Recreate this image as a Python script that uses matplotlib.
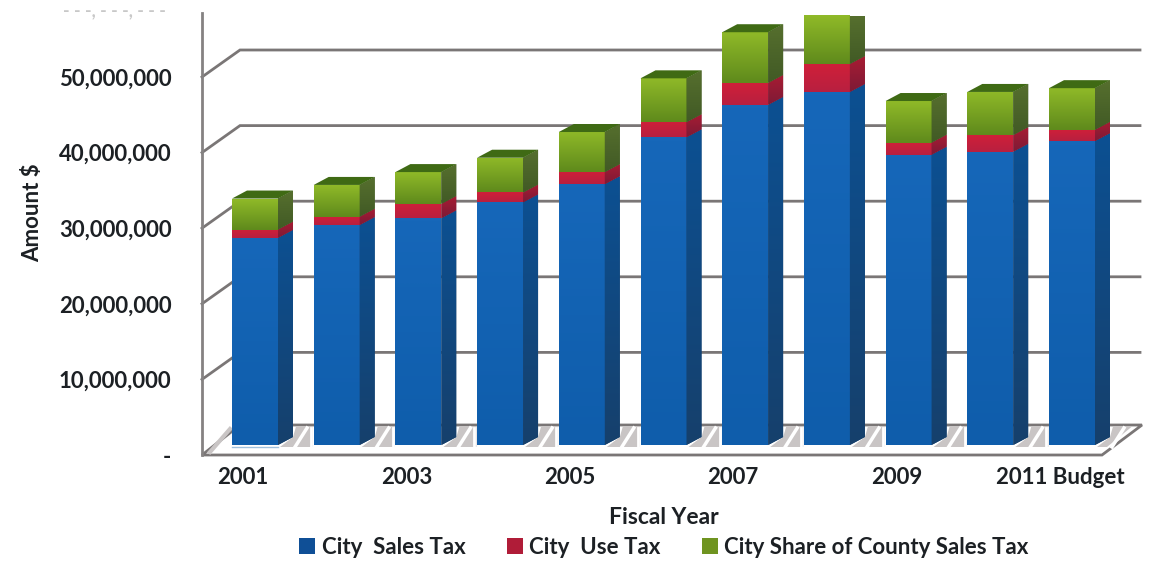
import numpy as np
import matplotlib
matplotlib.use("Agg")
import matplotlib.pyplot as plt
from matplotlib.patches import Polygon, Patch
from matplotlib.colors import LinearSegmentedColormap as LSC
from matplotlib.transforms import ScaledTranslation

# ---- data (millions of dollars) ----
categories = ["2001", "2002", "2003", "2004", "2005", "2006", "2007", "2008", "2009", "2010", "2011 Budget"]
sales_tax = [27.4, 29.1, 30.0, 32.1, 34.5, 40.7, 45.0, 46.7, 38.4, 38.8, 40.2]
use_tax = [1.1, 1.1, 1.9, 1.3, 1.6, 2.0, 2.9, 3.7, 1.6, 2.2, 1.5]
county_tax = [4.1, 4.2, 4.2, 4.6, 5.3, 5.8, 6.7, 6.5, 5.5, 5.7, 5.5]
y_ticks = [0, 10, 20, 30, 40, 50]
y_labels = ["-", "10,000,000", "20,000,000", "30,000,000", "40,000,000", "50,000,000"]
series_names = ["City  Sales Tax", "City  Use Tax", "City Share of County Sales Tax"]

plt.rcParams["font.family"] = ["Lato", "DejaVu Sans"]
W, H = 1151, 564
fig = plt.figure(figsize=(W / 100, H / 100), dpi=100, facecolor="white")
INK = "#1c2024"

# layout in pixels
L, R, T, B = 202, 1140, 13, 455
STEP, VPX = 81.7, 7.56          # px per category, px per million
ax = fig.add_axes([L / W, 1 - B / H, (R - L) / W, (B - T) / H])
xlim = ((L - 255) / STEP, (R - 255) / STEP)
ylim = (0, (B - T) / VPX)
px = lambda p: p / STEP
pv = lambda p: p / VPX
WIDTH = px(46)
DX, DY = px(15), pv(8)
BASE = pv(10)
VCLIP = pv(B - 16)
WALL_DX, WALL_DY = px(38), pv(27)
GRID = "#7a7676"

def shaded(xy, colors, z, horizontal=False):
    xy = np.asarray(xy, float)
    xy[:, 1] = np.minimum(xy[:, 1], VCLIP)
    poly = Polygon(xy, closed=True, facecolor=colors[0], edgecolor="none", zorder=z)
    ax.add_patch(poly)
    grad = np.linspace(0, 1, 64)
    grad = grad[None, :] if horizontal else grad[:, None]
    im = ax.imshow(grad, extent=(xy[:, 0].min(), xy[:, 0].max(), xy[:, 1].min(), xy[:, 1].max()),
                   origin="lower", aspect="auto", zorder=z, interpolation="bilinear",
                   cmap=LSC.from_list("c", colors))
    im.set_clip_path(poly)

# walls
x0 = xlim[0]
for v in y_ticks:
    if v == 0:
        continue
    ax.plot([x0, x0 + WALL_DX, xlim[1]], [v, v + WALL_DY, v + WALL_DY], color=GRID,
            lw=2.0, zorder=1, solid_joinstyle="miter", clip_on=False)

# floor
floor_back = WALL_DY + pv(3)
ax.add_patch(Polygon([(x0, 0), (px(1102 - 255), 0), (px(1142 - 255), floor_back), (x0 + WALL_DX, floor_back)],
                     closed=True, facecolor="white", edgecolor=GRID, lw=2.0, zorder=1.2, clip_on=False))

x = np.arange(len(categories))
blue, red, green = np.array(sales_tax), np.array(use_tax), np.array(county_tax)
base = np.full(len(x), BASE)

# bar shadows on the floor
for xi in x:
    r = xi + WIDTH / 2
    last = xi == x[-1]
    end_low = r + px(12) if last else r + px(35)
    end_top = r + px(37) if last else r + px(35)
    ax.add_patch(Polygon([(r + px(2), BASE - pv(2)), (r + DX, BASE + DY), (r + px(18), floor_back - pv(1.5)),
                          (end_top, floor_back - pv(1.5)), (end_low, BASE - pv(2))],
                         closed=True, facecolor="#c9c5c5", edgecolor="none", zorder=1.5, clip_on=False))
    ax.plot([r + px(17), r + px(29)], [BASE - pv(2), floor_back - pv(3)], color="white", lw=2.5, zorder=1.6)
    if not last:
        ax.plot([r + px(33), r + px(33)], [BASE - pv(2), floor_back - pv(3)], color="white", lw=2.0, zorder=1.6)
ax.plot([x0 + px(8), x0 + px(28)], [pv(3), floor_back - pv(4)], color="#c9c5c5", lw=3, zorder=1.5)
ax.plot([-WIDTH / 2, WIDTH / 2], [BASE - pv(1.5), BASE - pv(1.5)], color="#9fc0dd", lw=1, zorder=1.6)

# stacked bars
segments = [
    (blue, base, ["#0f5dab", "#1667b9"], ["#16406c", "#0c5092"]),
    (red, base + blue, ["#b81f40", "#cf2039"], ["#7d1a36", "#a81c33"]),
    (green, base + blue + red, ["#5f8a1c", "#8fb928"], ["#415a25", "#566f2e"]),
]
for vals, bottoms, front, side in segments:
    ax.bar(x, vals, WIDTH, bottom=bottoms, color=front[1], zorder=3, linewidth=0)
    for xi, v, b in zip(x, vals, bottoms):
        l, r = xi - WIDTH / 2, xi + WIDTH / 2
        shaded([(l, b), (r, b), (r, b + v), (l, b + v)], front, 3.1)
        shaded([(r, b), (r + DX, b + DY), (r + DX, b + v + DY), (r, b + v)], side, 3.2)

# green tops
totals = base + blue + red + green
for xi, t in zip(x, totals):
    l, r = xi - WIDTH / 2, xi + WIDTH / 2
    if t + 1e-6 < VCLIP:
        ax.add_patch(Polygon([(l, t), (r, t), (r + DX, t + DY), (l + DX, t + DY)], closed=True,
                             facecolor="#3f6a14", edgecolor="none", zorder=3.3))

ax.set_xlim(*xlim)
ax.set_ylim(*ylim)
for s in ("top", "right", "bottom"):
    ax.spines[s].set_visible(False)
ax.spines["left"].set_color("#858282")
ax.spines["left"].set_linewidth(2)
ax.patch.set_alpha(0)

ax.set_yticks(y_ticks)
ax.set_yticklabels(y_labels, fontsize=16, fontweight="bold", color=INK)
ax.tick_params(axis="y", length=0, pad=22)
ax.set_xticks(x[::2])
ax.set_xticklabels(categories[::2], fontsize=16, fontweight="bold", color=INK)
ax.tick_params(axis="x", length=0, pad=9)
shift = ScaledTranslation(-12 / 100, 0, fig.dpi_scale_trans)
for lab in ax.get_xticklabels():
    lab.set_transform(lab.get_transform() + shift)

fig.text(33 / W, 1 - 213 / H, "Amount $", rotation=90, ha="center", va="center",
         fontsize=16, fontweight="bold", color=INK)
fig.text(664 / W, 1 - 517 / H, "Fiscal Year", ha="center", va="center",
         fontsize=16.5, fontweight="bold", color=INK)
fig.text(114 / W, 1 - 12 / H, "- - -, - - -, - - -", ha="center", va="center",
         fontsize=13, fontweight="bold", color="#c8c8c8")

handles = [Patch(facecolor="#0f4f96"), Patch(facecolor="#b01c38"), Patch(facecolor="#6f9420")]
fig.legend(handles, series_names, loc="center", bbox_to_anchor=(664 / W, 1 - 547 / H), ncol=3,
           frameon=False, handlelength=0.72, handleheight=0.72, handletextpad=0.3, columnspacing=1.85,
           prop={"size": 16, "weight": "bold"}, labelcolor=INK)

fig.savefig("out.png", dpi=100)
